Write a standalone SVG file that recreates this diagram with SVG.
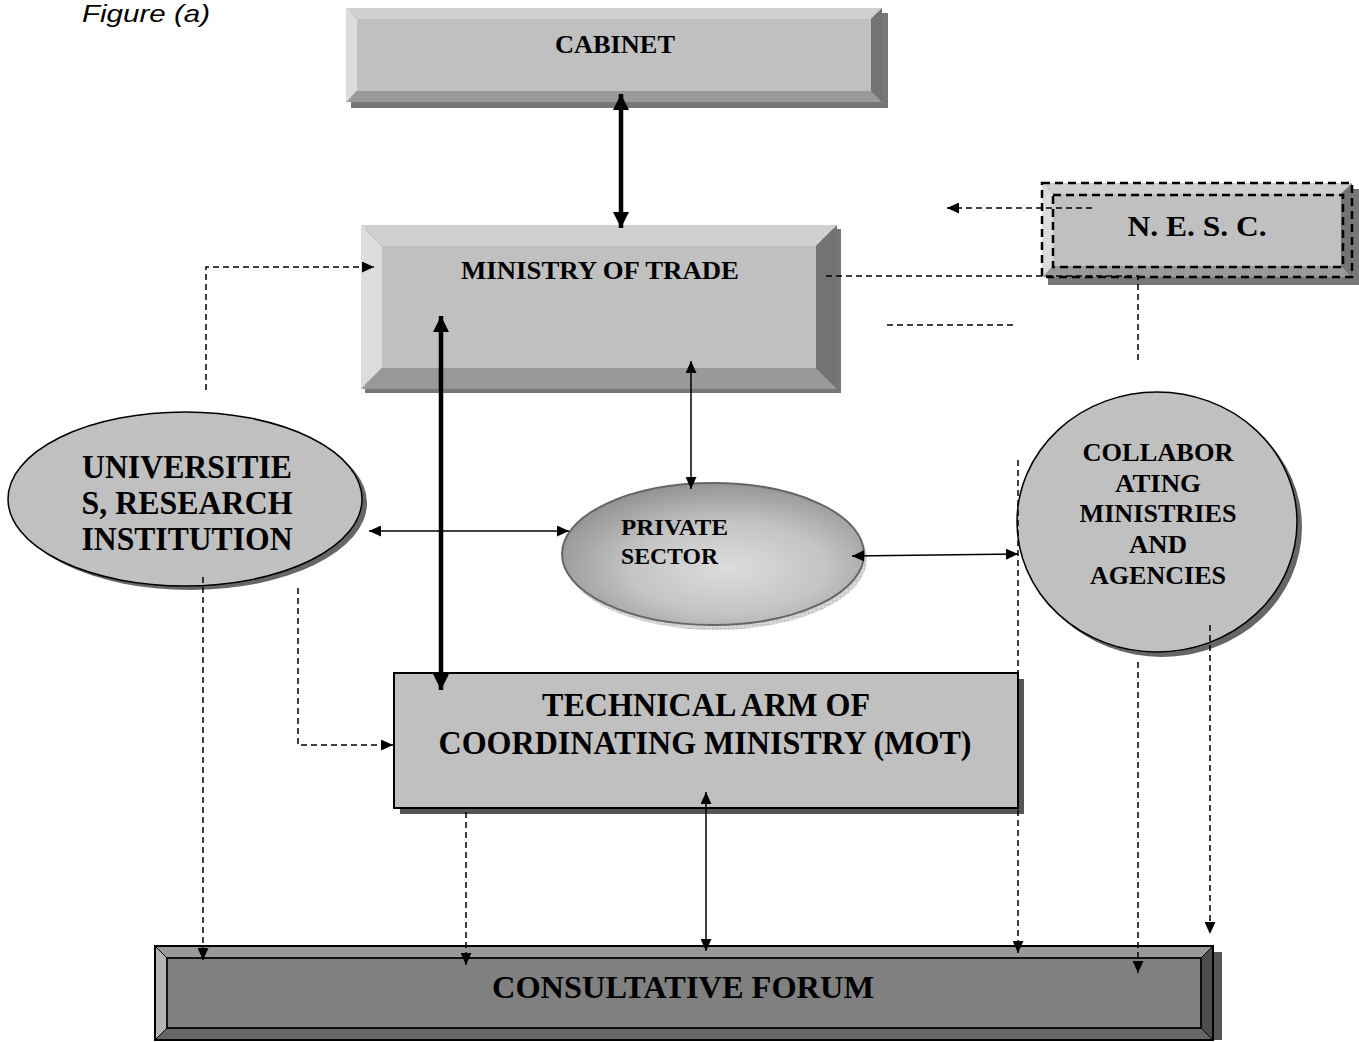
<svg xmlns="http://www.w3.org/2000/svg" width="1359" height="1042" viewBox="0 0 1359 1042">
<style>
.t{font-family:"Liberation Serif","Times New Roman",serif;font-weight:bold;fill:#000;text-anchor:middle}
.s{text-anchor:start}
.c{fill:none;stroke:#000;stroke-width:1.5}
.d{fill:none;stroke:#000;stroke-width:1.5;stroke-dasharray:6,4}
.k{fill:none;stroke:#000;stroke-width:4.5}
</style>
<defs>
<marker id="a" markerUnits="userSpaceOnUse" markerWidth="12" markerHeight="11" refX="12" refY="5.5" orient="auto-start-reverse"><path d="M0,0 L12,5.5 L0,11 z" fill="#000"/></marker>
<marker id="ak" markerUnits="userSpaceOnUse" markerWidth="16" markerHeight="16" refX="16" refY="8" orient="auto-start-reverse"><path d="M0,0 L16,8 L0,16 z" fill="#000"/></marker>
<radialGradient id="pg" cx="0.55" cy="0.6" r="0.65">
<stop offset="0" stop-color="#dcdcdc"/><stop offset="0.5" stop-color="#c4c4c4"/><stop offset="1" stop-color="#8c8c8c"/>
</radialGradient>
<pattern id="hatch" width="4" height="4" patternUnits="userSpaceOnUse"><rect width="4" height="4" fill="#d8d8d8"/><path d="M0,0 L0,4 M0,0 L4,0" stroke="#aaa" stroke-width="0.6"/></pattern>
</defs>
<rect width="1359" height="1042" fill="#fff"/>
<text x="82" y="22" font-family="Liberation Sans, Arial, sans-serif" font-style="italic" font-size="24" textLength="128" lengthAdjust="spacingAndGlyphs">Figure (a)</text>

<g id="cabinet">
<rect x="351" y="13" width="537" height="95" fill="#777"/>
<rect x="357" y="19" width="514" height="72" fill="#c0c0c0"/>
<polygon points="346,8 882,8 871,19 357,19" fill="#d0d0d0"/>
<polygon points="346,8 357,19 357,91 346,102" fill="#dcdcdc"/>
<polygon points="346,102 357,91 871,91 882,102" fill="#999"/>
<polygon points="882,8 882,102 871,91 871,19" fill="#737373"/>
<text class="t" x="615" y="53" font-size="26" textLength="120" lengthAdjust="spacingAndGlyphs">CABINET</text>
</g>

<g id="ministry">
<rect x="365" y="229" width="476" height="164" fill="#777"/>
<rect x="382" y="246" width="434" height="122" fill="#c0c0c0"/>
<polygon points="361,225 837,225 816,246 382,246" fill="#d0d0d0"/>
<polygon points="361,225 382,246 382,368 361,389" fill="#dcdcdc"/>
<polygon points="361,389 382,368 816,368 837,389" fill="#999"/>
<polygon points="837,225 837,389 816,368 816,246" fill="#737373"/>
<text class="t" x="600" y="279" font-size="26" textLength="278" lengthAdjust="spacingAndGlyphs">MINISTRY OF TRADE</text>
</g>

<g id="nesc">
<rect x="1048" y="189" width="312" height="96" fill="#777"/>
<rect x="1053" y="194" width="288" height="72" fill="#c0c0c0"/>
<polygon points="1042,183 1352,183 1341,194 1053,194" fill="#d0d0d0"/>
<polygon points="1042,183 1053,194 1053,266 1042,277" fill="#dcdcdc"/>
<polygon points="1042,277 1053,266 1341,266 1352,277" fill="#999"/>
<polygon points="1352,183 1352,277 1341,266 1341,194" fill="#737373"/>
<rect x="1042" y="183" width="310" height="94" fill="none" stroke="#000" stroke-width="2.5" stroke-dasharray="8,5"/>
<rect x="1053" y="195" width="290" height="72" fill="none" stroke="#000" stroke-width="2.5" stroke-dasharray="8,5"/>
<text class="t" x="1197" y="236" font-size="30" textLength="139" lengthAdjust="spacingAndGlyphs">N. E. S. C.</text>
</g>

<g id="universities">
<ellipse cx="190" cy="503" rx="177" ry="87" fill="#666"/>
<ellipse cx="185" cy="499" rx="177" ry="87" fill="#c0c0c0" stroke="#000" stroke-width="1.5"/>
<text class="t" x="187" y="478" font-size="34" textLength="210" lengthAdjust="spacingAndGlyphs">UNIVERSITIE</text>
<text class="t" x="187" y="514" font-size="34" textLength="211" lengthAdjust="spacingAndGlyphs">S, RESEARCH</text>
<text class="t" x="187" y="550" font-size="34" textLength="211" lengthAdjust="spacingAndGlyphs">INSTITUTION</text>
</g>

<g id="private">
<ellipse cx="716" cy="559" rx="151" ry="71" fill="url(#hatch)"/>
<ellipse cx="713" cy="554" rx="151" ry="71" fill="url(#pg)" stroke="#666" stroke-width="2"/>
<text class="t s" x="621" y="535" font-size="23" textLength="107" lengthAdjust="spacingAndGlyphs">PRIVATE</text>
<text class="t s" x="621" y="564" font-size="23" textLength="97" lengthAdjust="spacingAndGlyphs">SECTOR</text>
</g>

<g id="collaborating">
<ellipse cx="1162" cy="527" rx="140" ry="130" fill="#666"/>
<ellipse cx="1157" cy="522" rx="140" ry="130" fill="#c0c0c0" stroke="#000" stroke-width="1.5"/>
<text class="t" x="1158" y="461" font-size="26" textLength="151" lengthAdjust="spacingAndGlyphs">COLLABOR</text>
<text class="t" x="1158" y="492" font-size="26" textLength="86" lengthAdjust="spacingAndGlyphs">ATING</text>
<text class="t" x="1158" y="522" font-size="26" textLength="157" lengthAdjust="spacingAndGlyphs">MINISTRIES</text>
<text class="t" x="1158" y="553" font-size="26" textLength="58" lengthAdjust="spacingAndGlyphs">AND</text>
<text class="t" x="1158" y="584" font-size="26" textLength="136" lengthAdjust="spacingAndGlyphs">AGENCIES</text>
</g>

<g id="technical">
<rect x="400" y="679" width="624" height="135" fill="#555"/>
<rect x="394" y="673" width="624" height="135" fill="#c0c0c0" stroke="#000" stroke-width="2"/>
<text class="t" x="706" y="716" font-size="34" textLength="328" lengthAdjust="spacingAndGlyphs">TECHNICAL ARM OF</text>
<text class="t" x="705" y="754" font-size="34" textLength="533" lengthAdjust="spacingAndGlyphs">COORDINATING MINISTRY (MOT)</text>
</g>

<g id="forum">
<rect x="1213" y="952" width="9" height="88" fill="#555"/>
<rect x="167" y="958" width="1034" height="70" fill="#808080"/>
<polygon points="155,946 1213,946 1201,958 167,958" fill="#999" stroke="#000" stroke-width="1"/>
<polygon points="155,946 167,958 167,1028 155,1040" fill="#b3b3b3" stroke="#000" stroke-width="1"/>
<polygon points="155,1040 167,1028 1201,1028 1213,1040" fill="#666" stroke="#000" stroke-width="1"/>
<polygon points="1213,946 1213,1040 1201,1028 1201,958" fill="#4d4d4d" stroke="#000" stroke-width="1"/>
<rect x="167" y="958" width="1034" height="70" fill="none" stroke="#000" stroke-width="1.5"/>
<rect x="155" y="946" width="1058" height="94" fill="none" stroke="#000" stroke-width="2"/>
<text class="t" x="683" y="998" font-size="32" textLength="382" lengthAdjust="spacingAndGlyphs">CONSULTATIVE FORUM</text>
</g>

<g id="connectors">
<path class="k" d="M621,94 V228" marker-start="url(#ak)" marker-end="url(#ak)"/>
<path class="k" d="M441,316 V690" marker-start="url(#ak)" marker-end="url(#ak)"/>
<path class="c" d="M691,361 V489" marker-start="url(#a)" marker-end="url(#a)"/>
<path class="c" d="M369,531 H569" marker-start="url(#a)" marker-end="url(#a)"/>
<path class="c" d="M852,556 L1018,554" marker-start="url(#a)" marker-end="url(#a)"/>
<path class="c" d="M706,792 V951" marker-start="url(#a)" marker-end="url(#a)"/>
<path class="d" d="M206,390 V267 H374" marker-end="url(#a)"/>
<path class="d" d="M1092,208 H947" marker-end="url(#a)"/>
<path class="d" d="M826,276 H1138 V362"/>
<path class="d" d="M887,325 H1017"/>
<path class="d" d="M298,588 V745 H393" marker-end="url(#a)"/>
<path class="d" d="M203,577 V960" marker-end="url(#a)"/>
<path class="d" d="M466,812 V965" marker-end="url(#a)"/>
<path class="d" d="M1018,460 V953" marker-end="url(#a)"/>
<path class="d" d="M1138,662 V973" marker-end="url(#a)"/>
<path class="d" d="M1210,625 V934" marker-end="url(#a)"/>
</g>
</svg>
